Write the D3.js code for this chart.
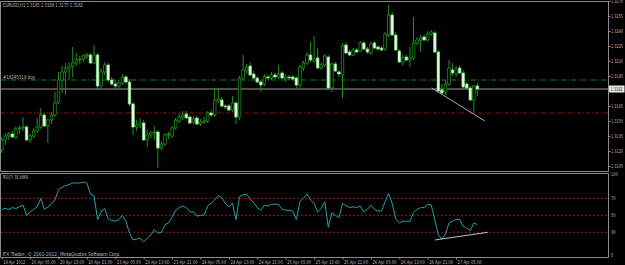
<!DOCTYPE html>
<html>
<head>
<meta charset="utf-8">
<script src="https://cdn.jsdelivr.net/npm/d3@7"></script>
<style>
body { margin: 0; background: #000; }
svg { display: block; }
</style>
</head>
<body>
<div id="chart"></div>
<script>
// EURUSD H1 candles, one entry per bar (19 Apr 21:00 ... 27 Apr 06:00)
var open = [1.3121,1.3131,1.3135,1.3137,1.3134,1.3142,1.3143,1.3144,1.3131,1.3135,
	1.3140,1.3144,1.3156,1.3145,1.3151,1.3156,1.3168,1.3191,1.3199,1.3203,
	1.3205,1.3208,1.3211,1.3212,1.3215,1.3216,1.3208,1.3216,1.3185,1.3199,
	1.3206,1.3191,1.3187,1.3185,1.3188,1.3194,1.3189,1.3167,1.3144,1.3146,
	1.3148,1.3131,1.3136,1.3138,1.3139,1.3123,1.3127,1.3136,1.3135,1.3143,
	1.3150,1.3154,1.3157,1.3154,1.3149,1.3153,1.3147,1.3149,1.3150,1.3158,
	1.3156,1.3170,1.3171,1.3165,1.3165,1.3161,1.3168,1.3154,1.3193,1.3200,
	1.3205,1.3197,1.3193,1.3189,1.3187,1.3194,1.3193,1.3196,1.3194,1.3198,
	1.3192,1.3194,1.3194,1.3193,1.3186,1.3203,1.3208,1.3216,1.3210,1.3213,
	1.3203,1.3206,1.3214,1.3183,1.3207,1.3199,1.3196,1.3226,1.3219,1.3216,
	1.3221,1.3220,1.3228,1.3222,1.3218,1.3228,1.3224,1.3223,1.3222,1.3236,
	1.3256,1.3236,1.3220,1.3209,1.3214,1.3211,1.3213,1.3228,1.3231,1.3234,
	1.3231,1.3237,1.3238,1.3219,1.3181,1.3179,1.3187,1.3201,1.3197,1.3203,
	1.3198,1.3187,1.3183,1.3171,1.3185];
var high = [1.3134,1.3138,1.3139,1.3140,1.3145,1.3146,1.3154,1.3146,1.3137,1.3143,
	1.3153,1.3163,1.3158,1.3152,1.3159,1.3179,1.3199,1.3205,1.3208,1.3209,
	1.3224,1.3218,1.3215,1.3217,1.3218,1.3218,1.3226,1.3218,1.3203,1.3209,
	1.3208,1.3194,1.3191,1.3191,1.3197,1.3196,1.3192,1.3169,1.3151,1.3153,
	1.3151,1.3141,1.3140,1.3145,1.3141,1.3130,1.3138,1.3139,1.3145,1.3153,
	1.3158,1.3160,1.3160,1.3156,1.3155,1.3155,1.3152,1.3154,1.3160,1.3161,
	1.3183,1.3182,1.3174,1.3167,1.3167,1.3175,1.3170,1.3195,1.3216,1.3207,
	1.3209,1.3200,1.3195,1.3191,1.3197,1.3197,1.3199,1.3198,1.3206,1.3200,
	1.3197,1.3196,1.3196,1.3195,1.3206,1.3210,1.3219,1.3229,1.3235,1.3223,
	1.3209,1.3217,1.3216,1.3209,1.3209,1.3201,1.3228,1.3229,1.3221,1.3223,
	1.3223,1.3230,1.3230,1.3224,1.3229,1.3230,1.3226,1.3225,1.3239,1.3266,
	1.3259,1.3239,1.3222,1.3216,1.3216,1.3224,1.3254,1.3234,1.3236,1.3236,
	1.3240,1.3241,1.3240,1.3221,1.3187,1.3191,1.3211,1.3208,1.3205,1.3206,
	1.3201,1.3189,1.3185,1.3186,1.3188];
var low = [1.3118,1.3126,1.3131,1.3133,1.3132,1.3137,1.3140,1.3130,1.3128,1.3133,
	1.3138,1.3142,1.3144,1.3128,1.3147,1.3154,1.3167,1.3178,1.3176,1.3191,
	1.3194,1.3205,1.3207,1.3209,1.3212,1.3207,1.3207,1.3181,1.3183,1.3196,
	1.3189,1.3185,1.3181,1.3183,1.3186,1.3187,1.3165,1.3136,1.3140,1.3143,
	1.3130,1.3124,1.3133,1.3131,1.3103,1.3121,1.3125,1.3132,1.3133,1.3141,
	1.3148,1.3151,1.3152,1.3147,1.3147,1.3146,1.3145,1.3147,1.3148,1.3154,
	1.3154,1.3168,1.3163,1.3162,1.3160,1.3159,1.3147,1.3151,1.3191,1.3197,
	1.3195,1.3192,1.3188,1.3179,1.3185,1.3191,1.3191,1.3192,1.3192,1.3192,
	1.3189,1.3191,1.3191,1.3183,1.3183,1.3200,1.3206,1.3209,1.3208,1.3202,
	1.3201,1.3204,1.3181,1.3179,1.3199,1.3194,1.3173,1.3217,1.3215,1.3215,
	1.3218,1.3219,1.3221,1.3217,1.3216,1.3222,1.3220,1.3220,1.3220,1.3234,
	1.3235,1.3220,1.3208,1.3205,1.3210,1.3204,1.3211,1.3226,1.3219,1.3230,
	1.3229,1.3235,1.3218,1.3178,1.3176,1.3176,1.3185,1.3195,1.3194,1.3197,
	1.3182,1.3181,1.3170,1.3158,1.3175];
var close = [1.3131,1.3135,1.3137,1.3134,1.3142,1.3143,1.3144,1.3131,1.3135,1.3140,
	1.3144,1.3156,1.3145,1.3151,1.3156,1.3168,1.3191,1.3199,1.3203,1.3205,
	1.3208,1.3211,1.3212,1.3215,1.3216,1.3208,1.3216,1.3185,1.3199,1.3206,
	1.3191,1.3187,1.3185,1.3188,1.3194,1.3189,1.3167,1.3144,1.3146,1.3148,
	1.3131,1.3136,1.3138,1.3139,1.3123,1.3127,1.3136,1.3137,1.3143,1.3151,
	1.3154,1.3156,1.3153,1.3148,1.3152,1.3147,1.3149,1.3150,1.3158,1.3156,
	1.3171,1.3172,1.3165,1.3164,1.3161,1.3168,1.3154,1.3193,1.3201,1.3204,
	1.3196,1.3193,1.3189,1.3186,1.3194,1.3193,1.3196,1.3194,1.3197,1.3193,
	1.3194,1.3193,1.3192,1.3186,1.3204,1.3208,1.3216,1.3211,1.3212,1.3203,
	1.3206,1.3215,1.3183,1.3207,1.3200,1.3197,1.3225,1.3218,1.3216,1.3221,
	1.3219,1.3228,1.3222,1.3219,1.3227,1.3223,1.3222,1.3221,1.3237,1.3256,
	1.3236,1.3221,1.3209,1.3213,1.3211,1.3213,1.3228,1.3231,1.3233,1.3231,
	1.3237,1.3239,1.3219,1.3180,1.3178,1.3187,1.3203,1.3198,1.3202,1.3198,
	1.3184,1.3183,1.3171,1.3185,1.3182];

// RSI(7) per bar
var rsi = [57,58,57,59,58,60,62,50,54,57,
	60,70,57,60,63,68,80,83,85,86,
	88,88,88,89,88,75,73,45,54,58,
	46,44,43,45,50,43,29,21,22,23,
	19,23,27,33,29,30,39,41,48,56,
	59,61,59,54,54,49,50,50,61,64,
	68,73,71,64,60,64,45,72,74,75,
	69,65,59,56,62,61,63,63,63,57,
	56,56,55,45,66,70,75,68,64,54,
	58,66,36,53,50,47,64,61,59,60,
	59,61,54,57,62,57,55,55,66,76,
	64,46,41,43,43,43,53,57,59,59,
	63,62,45,27,22,28,41,43,45,45,
	37,35,32,41,38.9668];
var rsiLevels = [70, 50, 30];
var rsiTicks = [0, 30, 50, 70, 100];

var priceTicks = [1.3270,1.3255,1.3240,1.3225,1.3210,1.3195,1.3165,1.3150,1.3135,1.3120,1.3105];
var timeIdx = [0,8,16,24,32,40,48,56,64,72,80,88,96,104,112,120,128];
var timeLabels = ['19 Apr 2012','20 Apr 05:00','20 Apr 13:00','20 Apr 21:00','23 Apr 05:00',
	'23 Apr 13:00','23 Apr 21:00','24 Apr 05:00','24 Apr 13:00','24 Apr 21:00','25 Apr 05:00',
	'25 Apr 13:00','25 Apr 21:00','26 Apr 05:00','26 Apr 13:00','26 Apr 21:00','27 Apr 05:00'];

var bidPrice = 1.3182;
var orderPrice = 1.3191;
var stopPrice = 1.3158;
var trendMain = [[121.1, 1.3183], [136.1, 1.3150]];
var trendRsi = [[122.1, 21], [136.9, 30]];

var width = 625, height = 265;
var plotRight = 608;
var grey = '#8c8c8c';
var txt = '#bdbdbd';
var font = 'DejaVu Sans';

var svg = d3.select('#chart').append('svg')
	.attr('width', width)
	.attr('height', height)
	.style('background', '#000');

// scales
var x = d3.scaleLinear().domain([0, 134]).range([1.7, 477.4]);
var y = d3.scaleLinear().domain([1.3105, 1.3270]).range([166, 1]);
var yR = d3.scaleLinear().domain([0, 100]).range([257.8, 172.8]);

svg.append('clipPath').attr('id', 'clipMain').append('rect')
	.attr('x', 1).attr('y', 1).attr('width', plotRight - 1).attr('height', 170);
svg.append('clipPath').attr('id', 'clipRsi').append('rect')
	.attr('x', 1).attr('y', 173).attr('width', plotRight - 1).attr('height', 84);

var main = svg.append('g').attr('clip-path', 'url(#clipMain)');
var lower = svg.append('g').attr('clip-path', 'url(#clipRsi)');

// order / stop / bid lines
main.append('line')
	.attr('x1', 1).attr('x2', plotRight)
	.attr('y1', y(orderPrice)).attr('y2', y(orderPrice))
	.attr('stroke', '#0c8a0c').attr('stroke-width', 1)
	.attr('stroke-dasharray', '5,2,1,2');
main.append('line')
	.attr('x1', 1).attr('x2', plotRight)
	.attr('y1', y(stopPrice)).attr('y2', y(stopPrice))
	.attr('stroke', '#9a0c0c').attr('stroke-width', 1)
	.attr('stroke-dasharray', '4,2,1,2');
main.append('line')
	.attr('x1', 1).attr('x2', plotRight)
	.attr('y1', y(bidPrice)).attr('y2', y(bidPrice))
	.attr('stroke', '#9a9a9a').attr('stroke-width', 1);

// candles
var idx = d3.range(open.length);
main.selectAll('.wick').data(idx).enter().append('line')
	.attr('class', 'wick')
	.attr('x1', function(i) { return x(i); })
	.attr('x2', function(i) { return x(i); })
	.attr('y1', function(i) { return y(high[i]); })
	.attr('y2', function(i) { return y(low[i]); })
	.attr('stroke', '#1f8f1f')
	.attr('stroke-width', 1);

main.selectAll('.body').data(idx).enter().append('rect')
	.attr('class', 'body')
	.attr('x', function(i) { return x(i) - 1.3; })
	.attr('width', 2.6)
	.attr('y', function(i) { return y(Math.max(open[i], close[i])); })
	.attr('height', function(i) { return Math.max(0.8, Math.abs(y(open[i]) - y(close[i]))); })
	.attr('fill', function(i) { return close[i] >= open[i] ? '#000' : '#eaffea'; })
	.attr('stroke', function(i) { return close[i] >= open[i] ? '#22a022' : '#7ad67a'; })
	.attr('stroke-width', 0.7);

// trend line
main.append('path')
	.attr('d', d3.line().x(function(d) { return x(d[0]); }).y(function(d) { return y(d[1]); })(trendMain))
	.attr('stroke', '#a8a8a8').attr('stroke-width', 1).attr('fill', 'none');

// RSI window
lower.selectAll('.lvl').data(rsiLevels).enter().append('line')
	.attr('class', 'lvl')
	.attr('x1', 1).attr('x2', plotRight)
	.attr('y1', function(d) { return yR(d); })
	.attr('y2', function(d) { return yR(d); })
	.attr('stroke', '#a01414').attr('stroke-width', 1)
	.attr('stroke-dasharray', '2,2');

lower.append('path')
	.datum(rsi)
	.attr('d', d3.line().x(function(d, i) { return x(i); }).y(function(d) { return yR(d); }))
	.attr('stroke', '#22a2a2').attr('stroke-width', 1).attr('fill', 'none');

lower.append('path')
	.attr('d', d3.line().x(function(d) { return x(d[0]); }).y(function(d) { return yR(d[1]); })(trendRsi))
	.attr('stroke', '#c4c4c4').attr('stroke-width', 1).attr('fill', 'none');

// frames
var frame = svg.append('g').attr('fill', 'none').attr('stroke', grey).attr('stroke-width', 1);
frame.append('path').attr('d', 'M0.5,1.5H' + (plotRight + 0.5) + 'V171.5H0.5Z');
frame.append('path').attr('d', 'M0.5,173.5H' + (plotRight + 0.5) + 'V257.5H0.5Z');

// price axis
var yAxis = svg.append('g')
	.attr('transform', 'translate(' + (plotRight + 0.5) + ',0)')
	.call(d3.axisRight(y).tickValues(priceTicks).tickFormat(d3.format('.4f')).tickSize(2).tickPadding(0.5));
yAxis.select('.domain').remove();
yAxis.selectAll('line').attr('stroke', grey);
yAxis.selectAll('text')
	.attr('fill', txt).attr('font-family', font).attr('font-size', 5)
	.attr('textLength', 12).attr('lengthAdjust', 'spacingAndGlyphs');

// bid label box
svg.append('rect')
	.attr('x', plotRight + 1).attr('y', y(bidPrice) - 3.5)
	.attr('width', 15.5).attr('height', 7)
	.attr('fill', '#e6e6e6');
svg.append('text')
	.attr('x', plotRight + 2.5).attr('y', y(bidPrice) + 1.9)
	.attr('fill', '#1a1a1a').attr('font-family', font).attr('font-size', 5)
	.attr('textLength', 12).attr('lengthAdjust', 'spacingAndGlyphs')
	.text(d3.format('.4f')(bidPrice));

// RSI axis
var rAxis = svg.append('g')
	.attr('transform', 'translate(' + (plotRight + 0.5) + ',0)')
	.call(d3.axisRight(yR).tickValues(rsiTicks).tickSize(0).tickPadding(2.5));
rAxis.select('.domain').remove();
rAxis.selectAll('text')
	.attr('fill', txt).attr('font-family', font).attr('font-size', 5)
	.attr('dy', function(d) { return d == 100 ? '0.62em' : (d == 0 ? '-0.3em' : '0.32em'); })
	.attr('textLength', function(d) { return String(d).length * 2.3; })
	.attr('lengthAdjust', 'spacingAndGlyphs');

// time axis
var xAxis = svg.append('g')
	.attr('transform', 'translate(0,257.5)')
	.call(d3.axisBottom(x).tickValues(timeIdx)
		.tickFormat(function(d, i) { return timeLabels[i]; })
		.tickSize(2).tickPadding(1));
xAxis.select('.domain').remove();
xAxis.selectAll('line').attr('stroke', grey);
xAxis.selectAll('text')
	.attr('fill', txt).attr('font-family', font).attr('font-size', 5)
	.attr('text-anchor', 'start').attr('dx', 1).attr('dy', '0.6em')
	.attr('textLength', function(d, i) { return i == 0 ? 22 : 24; })
	.attr('lengthAdjust', 'spacingAndGlyphs');

// captions
function caption(tx, xx, yy, len) {
	svg.append('text')
		.attr('x', xx).attr('y', yy)
		.attr('fill', txt).attr('font-family', font).attr('font-size', 5.5)
		.attr('textLength', len).attr('lengthAdjust', 'spacingAndGlyphs')
		.text(tx);
}
var last = open.length - 1;
var f4 = d3.format('.4f');
caption('EURUSD,H1  ' + f4(open[last]) + ' ' + f4(high[last]) + ' ' + f4(low[last]) + ' ' + f4(close[last]), 3, 6.8, 80);
caption('#18245318 buy', 3, 79.3, 32);
caption('RSI(7) ' + d3.format('.4f')(rsi[last]), 3, 179, 25);
caption('IFX Trader, \u00a9 2001-2012, MetaQuotes Software Corp.', 2.5, 255.5, 118);
</script>
</body>
</html>
